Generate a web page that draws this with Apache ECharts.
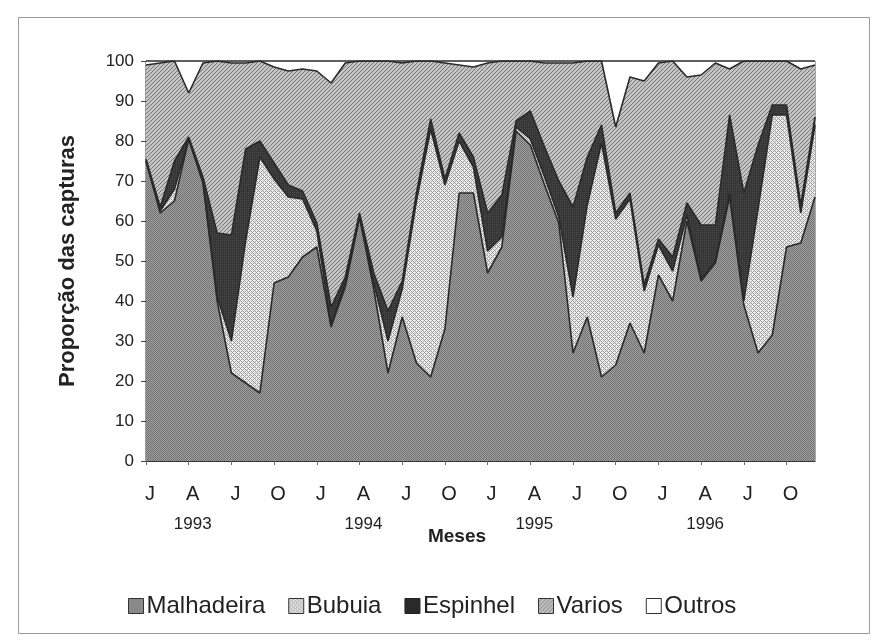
<!DOCTYPE html>
<html>
<head>
<meta charset="utf-8">
<script src="https://cdn.jsdelivr.net/npm/echarts@6/dist/echarts.min.js"></script>
<style>
html,body{margin:0;padding:0;background:#fff}
#main{width:882px;height:640px}
</style>
</head>
<body>
<div id="main"></div>
<script>
// meses jan/1993 - dez/1996
var years = ['1993', '1994', '1995', '1996'];
var monthInitials = ['J', 'F', 'M', 'A', 'M', 'J', 'J', 'A', 'S', 'O', 'N', 'D'];

// proporcao (%) de cada arte de pesca
var malhadeira = [75, 62, 65, 80.5, 69.5, 40, 22, 19.5, 17, 44.5, 46, 51,
                  53.5, 33.5, 43.5, 61, 43, 22, 36, 24.5, 21, 33, 67, 67,
                  47, 53.5, 82.5, 79, 69, 59.5, 27, 36, 21, 24, 34.5, 27,
                  46.5, 40, 60, 45, 49.5, 66, 39, 27, 31.5, 53.5, 54.5, 66];
var bubuia = [0, 0.5, 3, 0, 0.5, 1, 8, 35.5, 59, 26, 20, 14.5,
              4, 0.5, 1, 0, 1.5, 8, 7, 40.5, 62, 36, 13, 6.5,
              5.5, 2.5, 1, 1.5, 2, 1.5, 14, 28, 58.5, 36.5, 31, 15.5,
              7.5, 7.5, 1.5, 0.5, 0.5, 1, 1, 36, 55, 33, 7.5, 18];
var espinhel = [0.5, 1, 7, 0.5, 1, 16, 26.5, 23, 4, 4, 3, 2,
                2, 4.5, 1.5, 1, 2.5, 7.5, 2, 2, 2.5, 1.5, 2, 2.5,
                9.5, 10.5, 1.5, 7, 7.5, 9, 22.5, 12, 4.5, 1.5, 1.5, 1.5,
                1.5, 3.5, 3, 13.5, 9, 19.5, 27, 16, 2.5, 2.5, 2, 2];
var varios = [23.5, 36, 25, 11, 28.5, 43, 43, 21.5, 20, 24, 28.5, 30.5,
              38, 56, 53.5, 38, 53, 62.5, 54.5, 33, 14.5, 29, 17, 22.5,
              37.5, 33.5, 15, 12.5, 21, 29.5, 36, 24, 16, 21.5, 29, 51,
              44, 49, 31.5, 37.5, 40.5, 11.5, 33, 21, 11, 11, 34, 13];
var outros = [1, 0.5, 0, 8, 0.5, 0, 0.5, 0.5, 0, 1.5, 2.5, 2,
              2.5, 5.5, 0.5, 0, 0, 0, 0.5, 0, 0, 0.5, 1, 1.5,
              0.5, 0, 0, 0, 0.5, 0.5, 0.5, 0, 0, 16.5, 4, 5,
              0.5, 0, 4, 3.5, 0.5, 2, 0, 0, 0, 0, 2, 1];

var yTicks = [0, 10, 20, 30, 40, 50, 60, 70, 80, 90, 100];

var months = [];
years.forEach(function (y) {
    monthInitials.forEach(function (m, k) {
        months.push(y + '-' + (k + 1));
    });
});

// texturas
function pattern(size, bg, fg, test) {
    var c = document.createElement('canvas');
    c.width = c.height = size;
    var ctx = c.getContext('2d');
    ctx.fillStyle = bg;
    ctx.fillRect(0, 0, size, size);
    ctx.fillStyle = fg;
    for (var x = 0; x < size; x++) {
        for (var y = 0; y < size; y++) {
            if (test(x, y)) ctx.fillRect(x, y, 1, 1);
        }
    }
    return {image: c, repeat: 'repeat'};
}
var pMalh = pattern(2, '#a0a0a0', '#727272', function (x, y) { return x === y; });
var pBub = pattern(4, '#eeeeee', '#9a9a9a', function (x, y) { return (x + y) % 4 === 0 || (x - y + 4) % 4 === 0; });
var pEsp = pattern(2, '#353535', '#4a4a4a', function (x, y) { return x === 0 && y === 0; });
var pVar = pattern(4, '#c4c4c4', '#787878', function (x, y) { return (x + y) % 4 === 3; });
var pOut = '#ffffff';

function serie(name, data, fill) {
    return {
        name: name,
        type: 'line',
        stack: 'total',
        data: data,
        symbol: 'none',
        silent: true,
        lineStyle: {color: '#2a2a2a', width: 1.6},
        itemStyle: {color: '#888'},
        areaStyle: {color: fill, opacity: 1}
    };
}

var font = "'Liberation Sans', Arial, sans-serif";
var myChart = echarts.init(document.getElementById('main'));
var option = {
    backgroundColor: '#ffffff',
    animation: false,
    textStyle: {fontFamily: font},
    grid: {
        left: 146, right: 67, top: 61, bottom: 179,
        show: true, borderColor: '#555', borderWidth: 1
    },
    legend: {
        left: 128,
        top: 594,
        padding: 0,
        icon: 'rect',
        itemWidth: 15,
        itemHeight: 15,
        itemGap: 23,
        selectedMode: false,
        textStyle: {fontSize: 24, color: '#222', fontFamily: font, padding: [0, 0, 0, -2]},
        data: [
            {name: 'Malhadeira', itemStyle: {color: pMalh, borderColor: '#333', borderWidth: 1}},
            {name: 'Bubuia', itemStyle: {color: pBub, borderColor: '#333', borderWidth: 1}},
            {name: 'Espinhel', itemStyle: {color: '#2a2a2a', borderColor: '#222', borderWidth: 1}},
            {name: 'Varios', itemStyle: {color: pVar, borderColor: '#333', borderWidth: 1}},
            {name: 'Outros', itemStyle: {color: '#fff', borderColor: '#333', borderWidth: 1}}
        ]
    },
    xAxis: {
        type: 'category',
        data: months,
        boundaryGap: false,
        axisLine: {lineStyle: {color: '#333', width: 1.2}},
        axisTick: {
            length: 4,
            interval: function (i) { return i % 3 === 0; },
            lineStyle: {color: '#666'}
        },
        axisLabel: {
            interval: function (i) { return i % 3 === 0; },
            formatter: function (v, i) {
                var s = monthInitials[i % 12];
                if (i % 12 === 3) s += '\n{yr|' + years[Math.floor(i / 12)] + '}';
                return s;
            },
            fontSize: 20,
            lineHeight: 30,
            margin: 18,
            color: '#222',
            padding: [0, 0, 0, 8],
            rich: {yr: {fontSize: 17, lineHeight: 30, color: '#222', fontFamily: font}}
        },
        splitLine: {show: false}
    },
    yAxis: {
        type: 'value',
        min: yTicks[0],
        max: yTicks[yTicks.length - 1],
        interval: 10,
        axisLine: {show: true, lineStyle: {color: '#333', width: 1.2}},
        axisTick: {show: true, length: 5, lineStyle: {color: '#444'}},
        axisLabel: {fontSize: 17, color: '#222', margin: 12},
        splitLine: {show: false}
    },
    graphic: [
        {
            type: 'rect',
            silent: true,
            shape: {x: 18.5, y: 17.5, width: 851, height: 616},
            style: {fill: 'none', stroke: '#9a9a9a', lineWidth: 1}
        },
        {
            type: 'text',
            x: 68, y: 261,
            rotation: Math.PI / 2,
            style: {
                text: 'Proporção das capturas',
                font: 'bold 22px ' + font,
                fill: '#222',
                textAlign: 'center',
                textVerticalAlign: 'middle'
            }
        },
        {
            type: 'text',
            x: 457, y: 537,
            style: {
                text: 'Meses',
                font: 'bold 19px ' + font,
                fill: '#222',
                textAlign: 'center',
                textVerticalAlign: 'middle'
            }
        }
    ],
    series: [
        serie('Malhadeira', malhadeira, pMalh),
        serie('Bubuia', bubuia, pBub),
        serie('Espinhel', espinhel, pEsp),
        serie('Varios', varios, pVar),
        serie('Outros', outros, pOut)
    ]
};
myChart.setOption(option);
</script>
</body>
</html>
